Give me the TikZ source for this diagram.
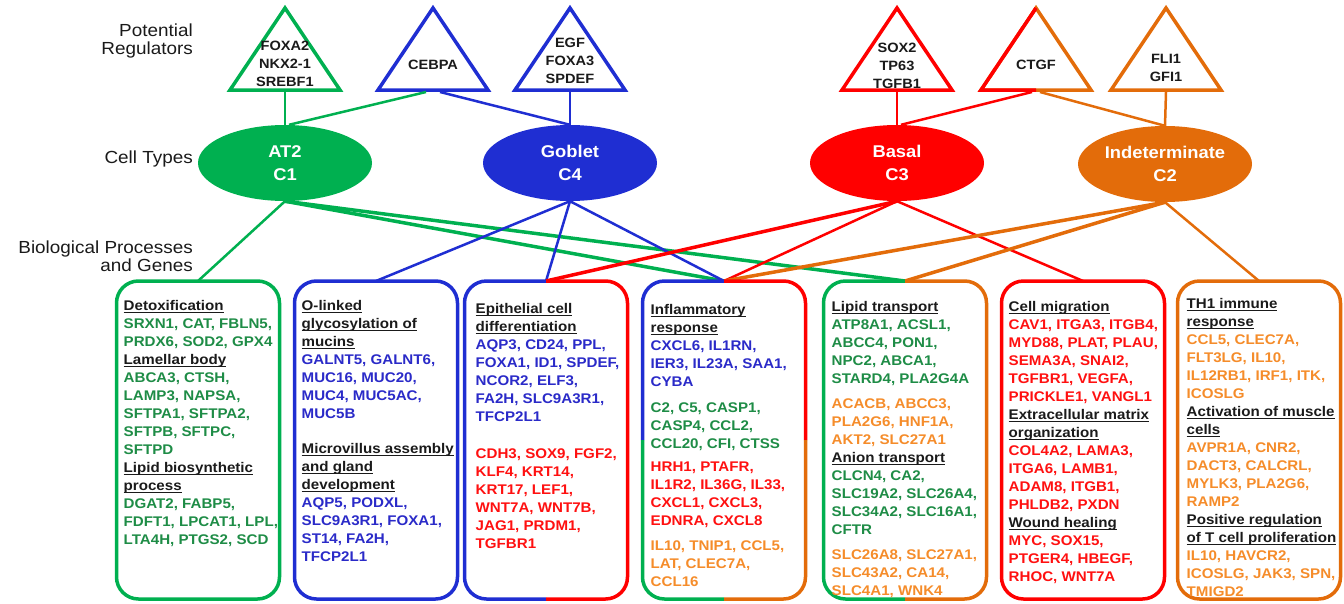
\documentclass[tikz,border=0pt]{standalone}
\usepackage{fontspec}
\setmainfont{Liberation Sans}[FakeStretch=1.08]
\usepackage{xcolor}
\usepackage{tikz}
\usetikzlibrary{shapes,positioning}
\definecolor{cgreen}{HTML}{00B050}
\definecolor{cblue}{HTML}{1F2ED2}
\definecolor{cred}{HTML}{FF0000}
\definecolor{corange}{HTML}{E36C0A}
\definecolor{tgreen}{HTML}{1E8C46}
\definecolor{tblue}{HTML}{2A2AC8}
\definecolor{tred}{HTML}{FF1010}
\definecolor{torange}{HTML}{F58C2A}
\definecolor{tdark}{HTML}{1A1A1A}
\newcommand\labfont{\fontsize{17.5}{18}\selectfont}
\newcommand\trifont{\fontsize{13.5}{18}\selectfont\bfseries}
\newcommand\cellfont{\fontsize{17}{23}\selectfont\bfseries}
\newcommand\genefont{\fontsize{14}{18}\selectfont\bfseries}
\newsavebox\hdbox
\newcommand\hd[1]{{\color{tdark}\sbox\hdbox{#1}\rlap{\rule[-2.8pt]{\wd\hdbox}{1.2pt}}\usebox\hdbox}}
\newcommand\gn[1]{\textcolor{tgreen}{#1}}
\newcommand\bu[1]{\textcolor{tblue}{#1}}
\newcommand\rd[1]{\textcolor{tred}{#1}}
\newcommand\og[1]{\textcolor{torange}{#1}}
\tikzstyle{lab} = [font=\labfont, text=tdark, align=right, anchor=east, inner sep=0pt]
\tikzstyle{tri} = [line width=3.5pt]
\tikzstyle{regtext} = [font=\trifont, text=tdark, align=center, inner sep=0pt]
\tikzstyle{cell} = [ellipse, minimum width=174pt, minimum height=76pt, inner sep=0pt,
    text=white, font=\cellfont, align=center]
\tikzstyle{box} = [minimum width=163pt, minimum height=318pt, inner sep=0pt, outer sep=0pt]
\tikzstyle{frame} = [line width=3.5pt, rounded corners=22pt]
\tikzstyle{genes} = [font=\genefont, align=left, inner sep=0pt]
\tikzstyle{link} = [line width=2.5pt]
\tikzstyle{wide} = [line width=3.5pt]
\begin{document}
\begin{tikzpicture}[x=1pt, y=-1pt]
    \useasboundingbox (0,0) rectangle (1344,603);
    % Row labels
    \node [lab] (lreg) at (193,41) {Potential\\Regulators};
    \node [lab] (lcell) at (193,159) {Cell Types};
    \node [lab] (lbio) at (193,256) {Biological Processes\\and Genes};

    % Potential regulators
    \draw [tri, cgreen] (285,8) -- (340,90) -- (230,90) -- cycle;
    \draw [tri, cblue] (433,8) -- (488,90) -- (378,90) -- cycle;
    \draw [tri, cblue] (570,8) -- (625,90) -- (515,90) -- cycle;
    \draw [tri, cred] (897,8) -- (952,90) -- (842,90) -- cycle;
    \draw [tri, corange] (1036,8) -- (1091,90) -- (981,90) -- cycle;
    \draw [tri, cred] (1036,90) -- (981,90) -- (1036,8);
    \draw [tri, corange] (1166,8) -- (1221,90) -- (1111,90) -- cycle;
    \node [regtext] (foxa2) at (285,64) {FOXA2\\NKX2-1\\SREBF1};
    \node [regtext] (cebpa) at (433,65) {CEBPA};
    \node [regtext] (egf) at (570,61) {EGF\\FOXA3\\SPDEF};
    \node [regtext] (sox2) at (897,66) {SOX2\\TP63\\TGFB1};
    \node [regtext] (ctgf) at (1036,65) {CTGF};
    \node [regtext] (fli1) at (1166,68) {FLI1\\GFI1};
    \coordinate (foxa2-b) at (285,92);
    \coordinate (cebpa-l) at (426,92);
    \coordinate (cebpa-r) at (440,92);
    \coordinate (egf-b) at (570,92);
    \coordinate (sox2-b) at (897,92);
    \coordinate (ctgf-l) at (1032,92);
    \coordinate (ctgf-r) at (1040,92);
    \coordinate (fli1-b) at (1166,92);

    % Cell types
    \node [cell, fill=cgreen] (at2) at (285,163) {AT2\\C1};
    \node [cell, fill=cblue] (goblet) at (570,163) {Goblet\\C4};
    \node [cell, fill=cred] (basal) at (897,163) {Basal\\C3};
    \node [cell, fill=corange] (indet) at (1165,164) {Indeterminate\\C2};

    % Process boxes
    \node [box] (b1) at (198,440) {};
    \node [box] (b2) at (376,440) {};
    \node [box] (b3) at (546,440) {};
    \node [box] (b4) at (724,440) {};
    \node [box] (b5) at (905,440) {};
    \node [box] (b6) at (1083,440) {};
    \node [box] (b7) at (1259,440) {};

    % Draw edges
    \draw [link, cgreen] (foxa2-b) -- (at2.north);
    \draw [link, cgreen] (cebpa-l) -- ([xshift=4pt]at2.north);
    \draw [link, cblue] (cebpa-r) -- (goblet.north);
    \draw [link, cblue] (egf-b) -- (goblet.north);
    \draw [link, cred] (sox2-b) -- (basal.north);
    \draw [link, cred] (ctgf-l) -- ([xshift=4pt]basal.north);
    \draw [link, corange] (ctgf-r) -- (indet.north);
    \draw [link, corange] (fli1-b) -- (indet.north);

    \draw [link, cgreen] (at2.south) -- (b1.north);
    \draw [wide, cgreen] (at2.south) -- (b4.north);
    \draw [wide, cgreen] (at2.south) -- (b5.north);
    \draw [link, cblue] (goblet.south) -- (b2.north);
    \draw [link, cblue] (goblet.south) -- (b3.north);
    \draw [link, cblue] (goblet.south) -- (b4.north);
    \draw [wide, cred] (basal.south) -- (b3.north);
    \draw [link, cred] (basal.south) -- (b4.north);
    \draw [link, cred] (basal.south) -- (b6.north);
    \draw [wide, corange] (indet.south) -- (b4.north);
    \draw [wide, corange] (indet.south) -- (b5.north);
    \draw [link, corange] (indet.south) -- (b7.north);

    % Box borders
    \draw [frame, cgreen] (b1.north) -- (b1.north west) -- (b1.south west) -- (b1.south east) -- (b1.north east) -- cycle;
    \draw [frame, cblue] (b2.north) -- (b2.north west) -- (b2.south west) -- (b2.south east) -- (b2.north east) -- cycle;
    \draw [frame, cblue] (b3.north) -- (b3.north west) -- (b3.south west) -- (b3.south);
    \draw [frame, cred] (b3.north) -- (b3.north east) -- (b3.south east) -- (b3.south);
    \draw [frame, cblue] (b4.west) -- (b4.north west) -- (b4.north);
    \draw [frame, cred] (b4.north) -- (b4.north east) -- (b4.east);
    \draw [frame, cgreen] (b4.west) -- (b4.south west) -- (b4.south);
    \draw [frame, corange] (b4.south) -- (b4.south east) -- (b4.east);
    \draw [frame, cgreen] (b5.north) -- (b5.north west) -- (b5.south west) -- (b5.south);
    \draw [frame, corange] (b5.north) -- (b5.north east) -- (b5.south east) -- (b5.south);
    \draw [frame, cred] (b6.north) -- (b6.north west) -- (b6.south west) -- (b6.south east) -- (b6.north east) -- cycle;
    \draw [frame, corange] (b7.north) -- (b7.north west) -- (b7.south west) -- (b7.south east) -- (b7.north east) -- cycle;

    % Biological processes and genes
    \node [genes, text=tgreen, below right=19pt and 7pt of b1.north west] (g1) {%
        \hd{Detoxification}\\ SRXN1, CAT, FBLN5,\\ PRDX6, SOD2, GPX4\\
        \hd{Lamellar body}\\ ABCA3, CTSH,\\ LAMP3, NAPSA,\\ SFTPA1, SFTPA2,\\ SFTPB, SFTPC,\\ SFTPD\\
        \hd{Lipid biosynthetic}\\ \hd{process}\\ DGAT2, FABP5,\\ FDFT1, LPCAT1, LPL,\\ LTA4H, PTGS2, SCD};
    \node [genes, text=tblue, below right=19pt and 7pt of b2.north west] (g2) {%
        \hd{O-linked}\\ \hd{glycosylation of}\\ \hd{mucins}\\
        GALNT5, GALNT6,\\ MUC16, MUC20,\\ MUC4, MUC5AC,\\ MUC5B\\[17pt]
        \hd{Microvillus assembly}\\ \hd{and gland}\\ \hd{development}\\
        AQP5, PODXL,\\ SLC9A3R1, FOXA1,\\ ST14, FA2H,\\ TFCP2L1};
    \node [genes, below right=22pt and 11pt of b3.north west] (g3) {%
        \hd{Epithelial cell}\\ \hd{differentiation}\\
        \bu{AQP3, CD24, PPL,}\\ \bu{FOXA1, ID1, SPDEF,}\\ \bu{NCOR2, ELF3,}\\ \bu{FA2H, SLC9A3R1,}\\ \bu{TFCP2L1}\\[19pt]
        \rd{CDH3, SOX9, FGF2,}\\ \rd{KLF4, KRT14,}\\ \rd{KRT17, LEF1,}\\ \rd{WNT7A, WNT7B,}\\ \rd{JAG1, PRDM1,}\\ \rd{TGFBR1}};
    \node [genes, below right=23pt and 8pt of b4.north west] (g4) {%
        \hd{Inflammatory}\\ \hd{response}\\
        \bu{CXCL6, IL1RN,}\\ \bu{IER3, IL23A, SAA1,}\\ \bu{CYBA}\\[8pt]
        \gn{C2, C5, CASP1,}\\ \gn{CASP4, CCL2,}\\ \gn{CCL20, CFI, CTSS}\\[5pt]
        \rd{HRH1, PTAFR,}\\ \rd{IL1R2, IL36G, IL33,}\\ \rd{CXCL1, CXCL3,}\\ \rd{EDNRA, CXCL8}\\[7pt]
        \og{IL10, TNIP1, CCL5,}\\ \og{LAT, CLEC7A,}\\ \og{CCL16}};
    \node [genes, below right=20pt and 8pt of b5.north west] (g5) {%
        \hd{Lipid transport}\\
        \gn{ATP8A1, ACSL1,}\\ \gn{ABCC4, PON1,}\\ \gn{NPC2, ABCA1,}\\ \gn{STARD4, PLA2G4A}\\[7pt]
        \og{ACACB, ABCC3,}\\ \og{PLA2G6, HNF1A,}\\ \og{AKT2, SLC27A1}\\
        \hd{Anion transport}\\
        \gn{CLCN4, CA2,}\\ \gn{SLC19A2, SLC26A4,}\\ \gn{SLC34A2, SLC16A1,}\\ \gn{CFTR}\\[7pt]
        \og{SLC26A8, SLC27A1,}\\ \og{SLC43A2, CA14,}\\ \og{SLC4A1, WNK4}};
    \node [genes, text=tred, below right=20pt and 7pt of b6.north west] (g6) {%
        \hd{Cell migration}\\
        CAV1, ITGA3, ITGB4,\\ MYD88, PLAT, PLAU,\\ SEMA3A, SNAI2,\\ TGFBR1, VEGFA,\\ PRICKLE1, VANGL1\\
        \hd{Extracellular matrix}\\ \hd{organization}\\
        COL4A2, LAMA3,\\ ITGA6, LAMB1,\\ ADAM8, ITGB1,\\ PHLDB2, PXDN\\
        \hd{Wound healing}\\
        MYC, SOX15,\\ PTGER4, HBEGF,\\ RHOC, WNT7A};
    \node [genes, text=torange, below right=17pt and 9pt of b7.north west] (g7) {%
        \hd{TH1 immune}\\ \hd{response}\\
        CCL5, CLEC7A,\\ FLT3LG, IL10,\\ IL12RB1, IRF1, ITK,\\ ICOSLG\\
        \hd{Activation of muscle}\\ \hd{cells}\\
        AVPR1A, CNR2,\\ DACT3, CALCRL,\\ MYLK3, PLA2G6,\\ RAMP2\\
        \hd{Positive regulation}\\ \hd{of T cell proliferation}\\
        IL10, HAVCR2,\\ ICOSLG, JAK3, SPN,\\ TMIGD2};
\end{tikzpicture}
\end{document}
